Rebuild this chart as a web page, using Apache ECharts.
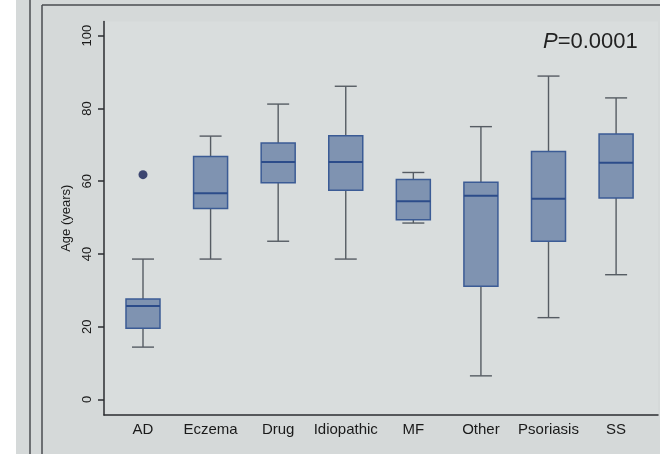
<!DOCTYPE html>
<html lang="en">
<head>
    <meta charset="UTF-8">
    <title>Age by diagnosis</title>
    <script src="https://cdn.jsdelivr.net/npm/echarts@6/dist/echarts.min.js"></script>
    <style>
        html, body {
            margin: 0;
            padding: 0;
            background: #ffffff;
        }

        #chart {
            width: 660px;
            height: 454px;
        }
    </style>
</head>
<body>
<div id="chart"></div>

<script type="text/javascript">
    // categories on the x axis
    var categories = ['AD', 'Eczema', 'Drug', 'Idiopathic', 'MF', 'Other', 'Psoriasis', 'SS'];
    // box stats: lower whisker, Q1, median, Q3, upper whisker
    var whiskerLow = [14.4, 38.6, 43.5, 38.6, 48.5, 6.5, 22.5, 34.3];
    var q1 = [19.6, 52.5, 59.6, 57.5, 49.4, 31.1, 43.5, 55.4];
    var median = [25.7, 56.7, 65.3, 65.3, 54.5, 56.0, 55.2, 65.1];
    var q3 = [27.6, 66.8, 70.5, 72.5, 60.5, 59.7, 68.2, 73.0];
    var whiskerHigh = [38.6, 72.4, 81.2, 86.1, 62.4, 75.0, 88.9, 82.9];
    // outliers: [category index, age]
    var outliers = [[0, 61.8]];
    var yTicks = [0, 20, 40, 60, 80, 100];
    var pText = '0.0001';

    var boxData = [];
    for (var i = 0; i < categories.length; i++) {
        boxData.push([i, whiskerLow[i], q1[i], median[i], q3[i], whiskerHigh[i]]);
    }

    var chart = echarts.init(document.getElementById('chart'));

    function renderBox(params, api) {
        var x = api.value(0);
        var pLow = api.coord([x, api.value(1)]);
        var pQ1 = api.coord([x, api.value(2)]);
        var pMed = api.coord([x, api.value(3)]);
        var pQ3 = api.coord([x, api.value(4)]);
        var pHigh = api.coord([x, api.value(5)]);
        var half = 17;
        var cap = 11;
        var whisker = {stroke: '#565c63', lineWidth: 1.4};
        var cx = pMed[0];
        return {
            type: 'group',
            children: [
                {type: 'line', shape: {x1: cx, y1: pHigh[1], x2: cx, y2: pQ3[1]}, style: whisker},
                {type: 'line', shape: {x1: cx, y1: pQ1[1], x2: cx, y2: pLow[1]}, style: whisker},
                {type: 'line', shape: {x1: cx - cap, y1: pHigh[1], x2: cx + cap, y2: pHigh[1]}, style: whisker},
                {type: 'line', shape: {x1: cx - cap, y1: pLow[1], x2: cx + cap, y2: pLow[1]}, style: whisker},
                {
                    type: 'rect',
                    shape: {x: cx - half, y: pQ3[1], width: half * 2, height: pQ1[1] - pQ3[1]},
                    style: {fill: '#7f93b1', stroke: '#3b5b95', lineWidth: 1.5}
                },
                {
                    type: 'line',
                    shape: {x1: cx - half, y1: pMed[1], x2: cx + half, y2: pMed[1]},
                    style: {stroke: '#2c4c8a', lineWidth: 2}
                }
            ]
        };
    }

    var option = {
        backgroundColor: 'transparent',
        animation: false,
        title: {
            text: '{i|P}{n|=' + pText + '}',
            left: 543,
            top: 31,
            padding: 0,
            textStyle: {
                fontWeight: 'normal',
                rich: {
                    i: {fontFamily: 'Liberation Sans', fontStyle: 'italic', fontWeight: 'normal', fontSize: 22, color: '#222222'},
                    n: {fontFamily: 'Liberation Sans', fontWeight: 'normal', fontSize: 22, color: '#222222'}
                }
            }
        },
        graphic: [
            {type: 'rect', z: -10, shape: {x: 16, y: 0, width: 644, height: 454}, style: {fill: '#d5d9d9'}},
            {type: 'line', shape: {x1: 30, y1: 0, x2: 30, y2: 454}, style: {stroke: '#4a4d50', lineWidth: 1.5}},
            {type: 'line', shape: {x1: 42, y1: 5, x2: 42, y2: 454}, style: {stroke: '#4a4d50', lineWidth: 1.5}},
            {type: 'line', shape: {x1: 42, y1: 5, x2: 660, y2: 5}, style: {stroke: '#4a4d50', lineWidth: 1.5}}
        ],
        grid: {
            left: 104,
            right: 2,
            top: 21.5,
            bottom: 39,
            show: true,
            backgroundColor: '#d9dddd',
            borderWidth: 0
        },
        xAxis: {
            type: 'value',
            min: -0.577,
            max: 7.62,
            splitLine: {show: false},
            axisLine: {show: true, onZero: false, lineStyle: {color: '#2b2d30', width: 1.5}},
            axisTick: {show: false},
            axisLabel: {
                customValues: [0, 1, 2, 3, 4, 5, 6, 7],
                formatter: function (v) {
                    return categories[Math.round(v)];
                },
                margin: 7,
                fontFamily: 'Liberation Sans',
                fontSize: 15,
                color: '#1a1a1a'
            }
        },
        yAxis: {
            type: 'value',
            min: -4.26,
            max: 103.9,
            name: 'Age (years)',
            nameLocation: 'middle',
            nameGap: 28,
            nameTextStyle: {fontFamily: 'Liberation Sans', fontSize: 13, color: '#1a1a1a'},
            splitLine: {show: false},
            axisLine: {show: true, onZero: false, lineStyle: {color: '#2b2d30', width: 1.5}},
            axisTick: {
                show: true,
                inside: false,
                length: 6,
                customValues: yTicks,
                lineStyle: {color: '#2b2d30', width: 1.5}
            },
            axisLabel: {
                customValues: yTicks,
                rotate: 90,
                margin: 10,
                fontFamily: 'Liberation Sans',
                fontSize: 13,
                color: '#1a1a1a'
            }
        },
        series: [
            {
                type: 'custom',
                name: 'Age',
                renderItem: renderBox,
                encode: {x: 0, y: [1, 2, 3, 4, 5]},
                data: boxData
            },
            {
                type: 'scatter',
                name: 'Outlier',
                symbolSize: 9,
                itemStyle: {color: '#141f55'},
                data: outliers
            }
        ]
    };

    chart.setOption(option);
</script>
</body>
</html>
